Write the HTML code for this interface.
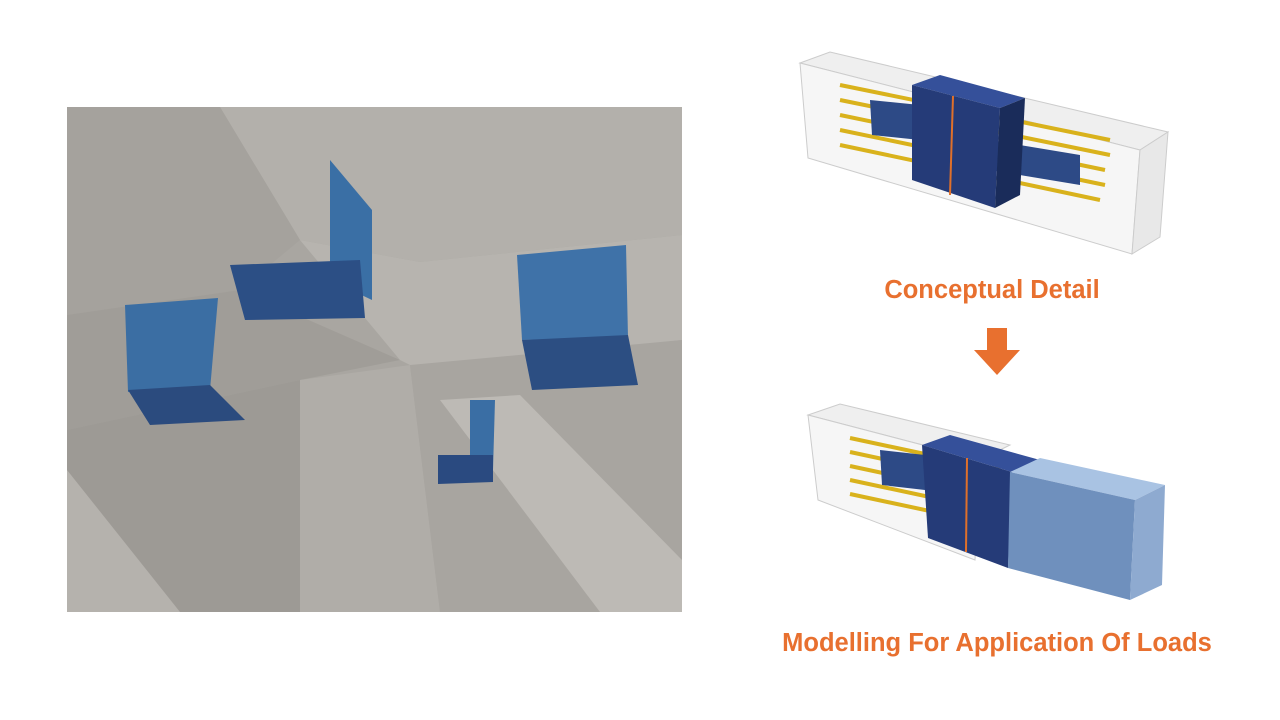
<!DOCTYPE html>
<html><head><meta charset="utf-8"><style>
html,body{margin:0;padding:0;background:#fff;width:1280px;height:720px;overflow:hidden}
.t{position:absolute;font-family:"Liberation Sans",sans-serif;font-weight:bold;color:#E8702F;font-size:25.5px;white-space:nowrap;transform:translateX(-50%)}
</style></head><body>
<svg width="1280" height="720" style="position:absolute;left:0;top:0">
<!-- photo -->
<rect x="67" y="107" width="615" height="505" fill="#a9a6a1"/>
<polygon points="67,107 682,107 682,235 420,262 300,240 220,107" fill="#b3b0ab"/>
<polygon points="67,107 220,107 300,240 240,290 67,315" fill="#a5a29d"/>
<polygon points="67,315 240,290 400,360 300,380 67,430" fill="#a09d98"/>
<polygon points="300,240 420,262 682,235 682,340 420,370 400,360" fill="#b7b4af"/>
<polygon points="67,430 300,380 300,612 67,612" fill="#9d9a95"/>
<polygon points="300,380 410,365 440,612 300,612" fill="#b0ada8"/>
<polygon points="410,365 682,340 682,612 440,612" fill="#a8a5a0"/>
<polygon points="440,400 520,395 682,560 682,612 600,612" fill="#bdbab5"/>
<polygon points="67,470 180,612 67,612" fill="#b5b2ad"/>
<polygon points="330,160 372,210 372,300 330,280" fill="#3a6fa5"/>
<polygon points="230,265 360,260 365,318 245,320" fill="#2c4f85"/>
<polygon points="125,305 218,298 210,390 128,392" fill="#3b6ea3"/>
<polygon points="128,390 210,385 245,420 150,425" fill="#2b4b7e"/>
<polygon points="517,255 626,245 628,338 522,340" fill="#3f72a8"/>
<polygon points="522,340 628,335 638,385 532,390" fill="#2c4e82"/>
<polygon points="470,400 495,400 493,470 470,470" fill="#3a6ea4"/>
<polygon points="438,455 493,455 493,482 438,484" fill="#2a4a80"/>
<!-- top diagram -->
<g>
<polygon points="800,63 830,52 1168,132 1140,150" fill="#efefef" stroke="#ccc"/>
<polygon points="800,63 1140,150 1132,254 808,158" fill="#f6f6f6" stroke="#ccc"/>
<polygon points="1140,150 1168,132 1160,237 1132,254" fill="#e8e8e8" stroke="#ccc"/>
<g stroke="#d9b21c" stroke-width="4">
<line x1="840" y1="85" x2="1110" y2="140"/><line x1="840" y1="100" x2="1110" y2="155"/>
<line x1="840" y1="115" x2="1105" y2="170"/><line x1="840" y1="130" x2="1105" y2="185"/>
<line x1="840" y1="145" x2="1100" y2="200"/>
</g>
<polygon points="870,100 920,105 920,140 872,135" fill="#2d4a86"/>
<polygon points="990,140 1080,155 1080,185 990,170" fill="#2d4a86"/>
<polygon points="912,85 940,75 1025,98 1000,108" fill="#35509a"/>
<polygon points="912,85 1000,108 995,208 912,180" fill="#253b78"/>
<polygon points="1000,108 1025,98 1020,195 995,208" fill="#1a2c5a"/>
<line x1="953" y1="96" x2="950" y2="195" stroke="#e0702a" stroke-width="2"/>
</g>
<polygon points="987,328 1007,328 1007,350 1020,350 997,375 974,350 987,350" fill="#E8702F"/>
<!-- bottom diagram -->
<g>
<polygon points="808,415 840,404 1010,445 980,460" fill="#efefef" stroke="#ccc"/>
<polygon points="808,415 980,460 975,560 818,500" fill="#f6f6f6" stroke="#ccc"/>
<g stroke="#d9b21c" stroke-width="4">
<line x1="850" y1="438" x2="1000" y2="470"/><line x1="850" y1="452" x2="1000" y2="484"/>
<line x1="850" y1="466" x2="1000" y2="498"/><line x1="850" y1="480" x2="1000" y2="512"/>
<line x1="850" y1="494" x2="1000" y2="526"/>
</g>
<polygon points="880,450 925,455 925,490 882,485" fill="#2d4a86"/>
<polygon points="922,445 950,435 1040,460 1012,472" fill="#35509a"/>
<polygon points="922,445 1012,472 1008,568 928,538" fill="#253b78"/>
<line x1="967" y1="458" x2="966" y2="552" stroke="#e0702a" stroke-width="2"/>
<polygon points="1010,472 1040,458 1165,485 1135,500" fill="#a9c3e3"/>
<polygon points="1010,472 1135,500 1130,600 1008,568" fill="#6f90bd"/>
<polygon points="1135,500 1165,485 1162,585 1130,600" fill="#8eaad0"/>
</g>
</svg>
<div class="t" style="left:992px;top:276px">Conceptual Detail</div>
<div class="t" style="left:997px;top:629px">Modelling For Application Of Loads</div>
</body></html>
